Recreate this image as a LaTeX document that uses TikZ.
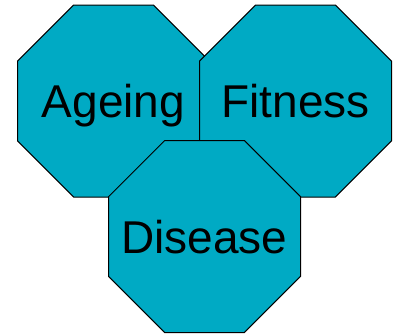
\documentclass[tikz,border=0pt]{standalone}
\usepackage{fontspec}
\setmainfont{Liberation Sans}
\definecolor{octfill}{RGB}{0,170,196}
\tikzset{
  octpath/.style={draw=black, line width=1pt, fill=octfill, line join=miter},
  lbl/.style={font=\fontsize{46}{46}\selectfont, text height=33pt, text depth=0pt, inner sep=0pt, anchor=center}
}
\newcommand{\octagonat}[1]{%
  \draw[octpath, shift={#1}] (-39.8,-96) -- (39.8,-96) -- (96,-39.8) -- (96,39.8)
    -- (39.8,96) -- (-39.8,96) -- (-96,39.8) -- (-96,-39.8) -- cycle;}
\begin{document}
\begin{tikzpicture}[x=1pt,y=-1pt]
\useasboundingbox (0,0) rectangle (399,333);
\coordinate (ageing) at (113.5,101);
\coordinate (fitness) at (295.5,101);
\coordinate (disease) at (204.5,236.5);
\octagonat{(ageing)}
\node[lbl] (ageingtext) at (ageing) {Ageing};
\octagonat{(fitness)}
\node[lbl] (fitnesstext) at (fitness) {Fitness};
\octagonat{(disease)}
\node[lbl] (diseasetext) at (disease) {Disease};
\end{tikzpicture}
\end{document}
